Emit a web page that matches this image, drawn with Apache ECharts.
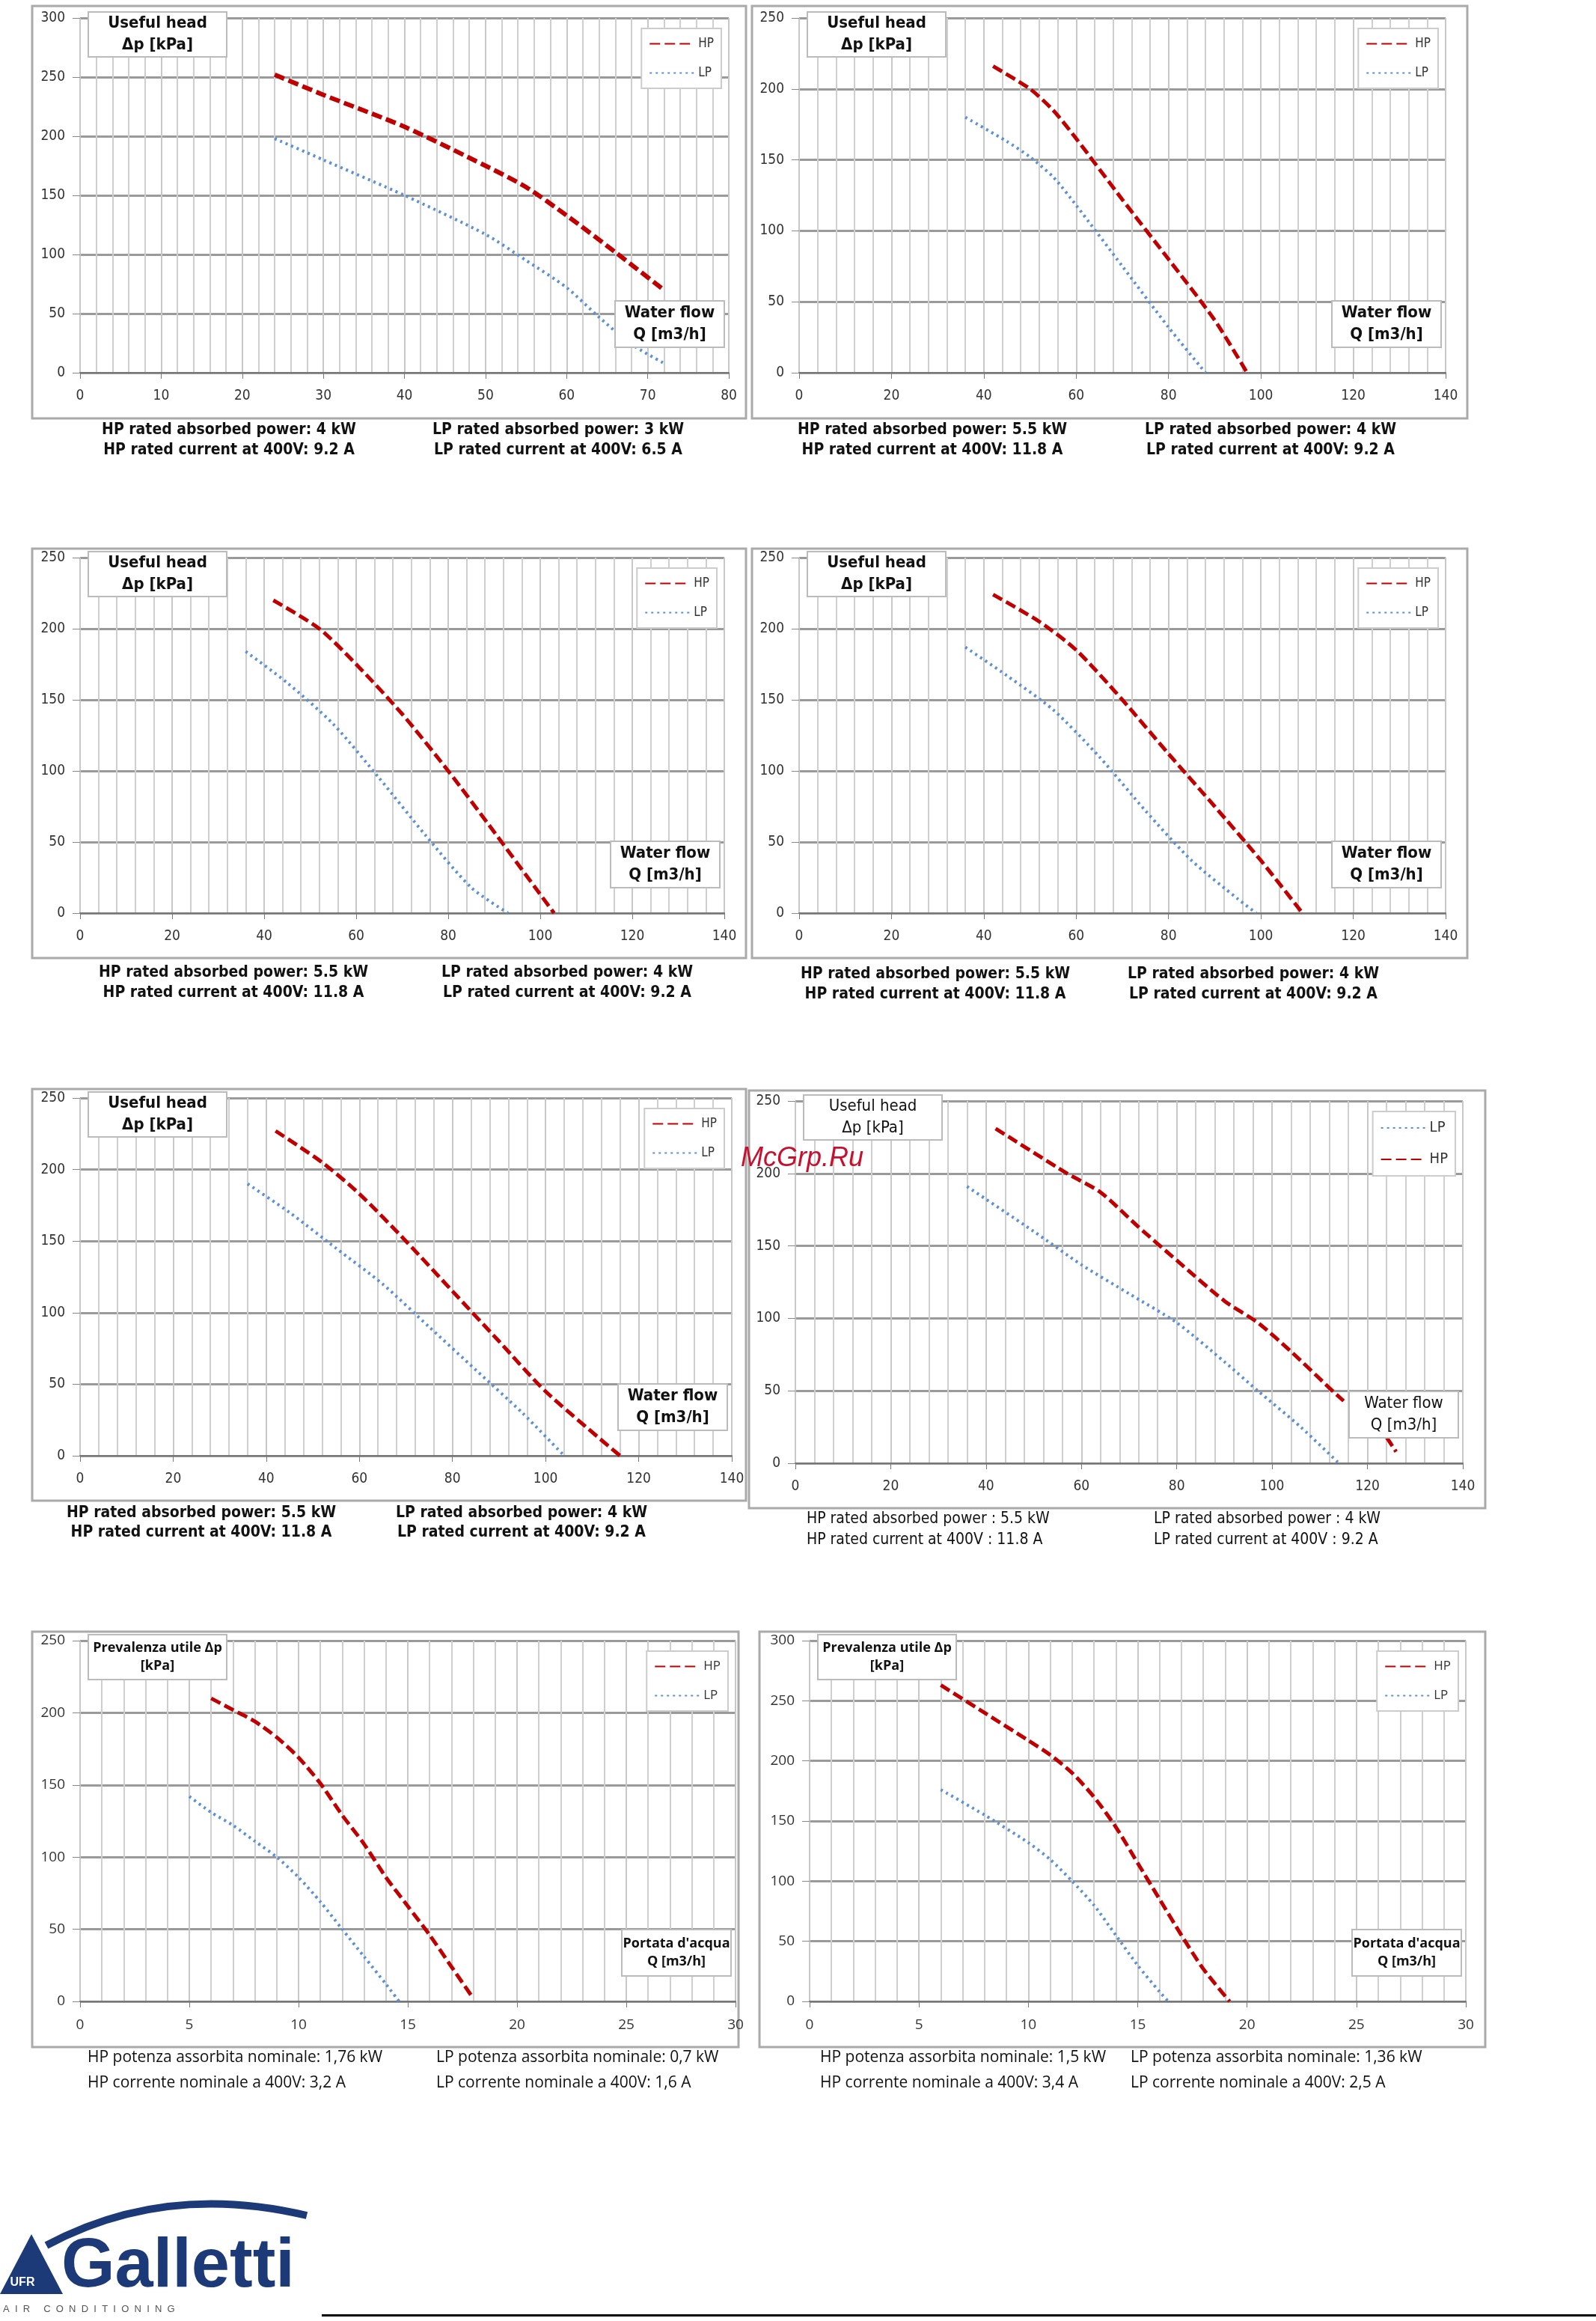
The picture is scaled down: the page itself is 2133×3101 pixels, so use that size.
<!DOCTYPE html>
<html>
<head>
<meta charset="utf-8">
<script src="https://cdn.jsdelivr.net/npm/echarts@6/dist/echarts.min.js"></script>
<style>
  html, body { margin: 0; padding: 0; background: #fff; }
  #main { width: 2133px; height: 3101px; }
</style>
</head>
<body>
<div id="main"></div>
<script>
// curve data, [Q m3/h, dp kPa]
var hp1 = [[24,252],[30,235],[40,208],[50,175],[55,157],[60,133],[66,102],[72,70]];
var lp1 = [[24,198],[30,180],[40,150],[50,117],[55,95],[60,72],[64,47],[68,24],[72,8]];
var hp2 = [[42,216],[50,200],[55,185],[60,165],[70,122],[80,80],[90,37],[97,0]];
var lp2 = [[36,180],[45,163],[50,152],[55,138],[60,118],[70,75],[80,32],[88,0]];
var hp3 = [[42,220],[52,200],[60,175],[70,140],[80,100],[90,57],[103,0]];
var lp3 = [[36,184],[45,162],[55,133],[65,95],[75,55],[85,18],[93,0]];
var hp4 = [[42,224],[52,205],[60,185],[70,150],[80,112],[90,75],[100,37],[109,0]];
var lp4 = [[36,187],[45,167],[55,143],[65,110],[75,72],[85,37],[95,10],[99,0]];
var hp5 = [[42,227],[52,205],[60,183],[70,150],[80,115],[90,80],[100,45],[116,0]];
var lp5 = [[36,190],[45,170],[55,145],[65,120],[75,90],[85,60],[95,30],[104,0]];
var hp6 = [[42,231],[57,200],[64,187],[72,163],[80,140],[90,112],[97,97],[104,77],[112,52],[115,43],'-',[124,18],[126,8]];
var lp6 = [[36,191],[50,160],[60,137],[70,117],[80,97],[90,70],[97,50],[106,25],[114,0]];
var hp7 = [[6,210],[7,202],[8,194],[9,183],[10,169],[11,151],[12,129],[13,109],[14,86],[15,66],[16,46],[17,24],[18,2]];
var lp7 = [[5,142],[6,131],[7,122],[8,111],[9,100],[10,86],[11,69],[12,50],[13,31],[14,12],[14.6,0]];
var hp8 = [[6,263],[8,240],[10,217],[11,205],[12,190],[13,170],[14,145],[15,115],[16,85],[17,55],[18,27],[19.2,0]];
var lp8 = [[6,176],[8,155],[10,132],[11,118],[12,100],[13,80],[14,55],[15,30],[16,8],[16.4,0]];

var hpList = [hp1,hp2,hp3,hp4,hp5,hp6,hp7,hp8];
var lpList = [lp1,lp2,lp3,lp4,lp5,lp6,lp7,lp8];
var xMax = [80,140,140,140,140,140,30,30];
var xStep = [10,20,20,20,20,20,5,5];
var yMax = [300,250,250,250,250,250,250,300];

var EN = '"Liberation Sans Narrow","DejaVu Sans Condensed",sans-serif';
var IT = '"Open Sans","Noto Sans",sans-serif';

var notes = [
  ['HP rated absorbed power: 4 kW','HP rated current at 400V: 9.2 A','LP rated absorbed power: 3 kW','LP rated current at 400V: 6.5 A'],
  ['HP rated absorbed power: 5.5 kW','HP rated current at 400V: 11.8 A','LP rated absorbed power: 4 kW','LP rated current at 400V: 9.2 A'],
  ['HP rated absorbed power: 5.5 kW','HP rated current at 400V: 11.8 A','LP rated absorbed power: 4 kW','LP rated current at 400V: 9.2 A'],
  ['HP rated absorbed power: 5.5 kW','HP rated current at 400V: 11.8 A','LP rated absorbed power: 4 kW','LP rated current at 400V: 9.2 A'],
  ['HP rated absorbed power: 5.5 kW','HP rated current at 400V: 11.8 A','LP rated absorbed power: 4 kW','LP rated current at 400V: 9.2 A'],
  ['HP rated absorbed power : 5.5 kW','HP rated current at 400V : 11.8 A','LP rated absorbed power : 4 kW','LP rated current at 400V : 9.2 A'],
  ['HP potenza assorbita nominale: 1,76 kW','HP corrente nominale a 400V: 3,2 A','LP potenza assorbita nominale: 0,7 kW','LP corrente nominale a 400V: 1,6 A'],
  ['HP potenza assorbita nominale: 1,5 kW','HP corrente nominale a 400V: 3,4 A','LP potenza assorbita nominale: 1,36 kW','LP corrente nominale a 400V: 2,5 A']
];

// layout (pixels)
var grids = [
  {l:107,r:974,t:24,b:498}, {l:1068,r:1932,t:24,b:498},
  {l:107,r:968,t:745,b:1220}, {l:1068,r:1932,t:745,b:1220},
  {l:107,r:978,t:1467,b:1945}, {l:1063,r:1955,t:1471,b:1955},
  {l:107,r:983,t:2192,b:2674}, {l:1082,r:1959,t:2192,b:2674}
];
var frames = [
  [43,8,997,559],[1005,8,1961,559],[43,733,997,1280],[1005,733,1961,1280],
  [43,1455,997,2005],[1001,1457,1985,2015],[43,2180,987,2735],[1015,2180,1985,2735]
];
// note positions: [x1, x2, y1, y2, align]
var notePos = [
  [306,746,575,602,'center'],[1246,1698,575,602,'center'],
  [312,758,1300,1327,'center'],[1250,1675,1302,1329,'center'],
  [269,697,2022,2048,'center'],[1078,1542,2030,2058,'left'],
  [117,583,2749,2783,'left'],[1096,1511,2749,2783,'left']
];

var option = { animation:false, backgroundColor:'#fff', grid:[], xAxis:[], yAxis:[], series:[], legend:[], graphic:[] };

function box(x, y, w, h, lines, font, size, weight){
  option.graphic.push({type:'rect', shape:{x:x,y:y,width:w,height:h},
    style:{fill:'#fff', stroke:'#bbb', lineWidth:2}, z:50});
  option.graphic.push({type:'text', x:x+w/2, y:y+h/2, z:51,
    style:{text:lines.join('\n'), align:'center', verticalAlign:'middle', fill:'#111',
      font:weight+' '+size+'px '+font, lineHeight:size*1.3}});
}

for (var i = 0; i < 8; i++){
  var g = grids[i];
  var ital = i >= 6, plain = i == 5;
  var font = ital ? IT : EN;
  var weight = plain ? 'normal' : 'bold';
  option.grid.push({left:g.l, top:g.t, width:g.r-g.l, height:g.b-g.t, containLabel:false});
  option.xAxis.push({type:'value', gridIndex:i, min:0, max:xMax[i], interval:xStep[i],
    axisLine:{lineStyle:{color:'#777', width:2}}, axisTick:{show:true, length:8, lineStyle:{color:'#777'}},
    axisLabel:{color:'#333', fontSize:19, margin:22, fontFamily:font},
    splitLine:{lineStyle:{color:'#c8c8c8', width:2}},
    minorTick:{show:false, splitNumber:5},
    minorSplitLine:{show:true, lineStyle:{color:'#cfcfcf', width:2}}});
  option.yAxis.push({type:'value', gridIndex:i, min:0, max:yMax[i], interval:50,
    axisLine:{show:false}, axisTick:{show:true, length:10, lineStyle:{color:'#888'}},
    axisLabel:{color:'#333', fontSize:19, margin:20, fontFamily:font},
    splitLine:{lineStyle:{color:'#9a9a9a', width:3}}});
  var hpS = {name:'HP', type:'line', xAxisIndex:i, yAxisIndex:i, data:hpList[i], symbol:'none',
    smooth:0.25, connectNulls:false, lineStyle:{color:'#c00000', width:i==0?6:5, type:[14,6]}, itemStyle:{color:'#c00000'}, z:5};
  var lpS = {name:'LP', type:'line', xAxisIndex:i, yAxisIndex:i, data:lpList[i], symbol:'none',
    smooth:0.25, lineStyle:{color:'#5b8fd6', width:4, type:[3,5]}, itemStyle:{color:'#5b8fd6'}, z:5};
  option.series.push(hpS, lpS);
  option.legend.push({orient:'vertical', right:2133-g.r+10, top:g.t+14,
    data: i==5 ? ['LP','HP'] : ['HP','LP'],
    itemWidth:60, itemHeight:10, itemGap:22, backgroundColor:'#fff', borderColor:'#ccc', borderWidth:2,
    itemStyle:{opacity:0},
    padding:[12,10,12,10], textStyle:{fontSize:i==5?20:17, color:'#333', fontFamily:font}, z:60});

  var f = frames[i];
  option.graphic.push({type:'rect', shape:{x:f[0],y:f[1],width:f[2]-f[0],height:f[3]-f[1]},
    style:{fill:'none', stroke:'#aaa', lineWidth:3}, z:0, silent:true});

  var fs = ital ? 18 : 22;
  box(g.l+11, g.t-8, 185, 60, ital ? ['Prevalenza utile Δp','[kPa]'] : ['Useful head','Δp [kPa]'], font, fs, weight);
  box(g.r-152, g.b-96, 146, 62, ital ? ["Portata d'acqua",'Q [m3/h]'] : ['Water flow','Q [m3/h]'], font, fs, weight);

  var n = notePos[i];
  var nw = ital ? 'normal' : weight;
  [[n[0],n[2],notes[i][0]],[n[0],n[3],notes[i][1]],[n[1],n[2],notes[i][2]],[n[1],n[3],notes[i][3]]].forEach(function(t){
    option.graphic.push({type:'text', x:t[0], y:t[1], z:40,
      style:{text:t[2], align:n[4], verticalAlign:'middle', fill:'#111', font:nw+' 21px '+font}});
  });
}

// watermark
option.graphic.push({type:'text', x:1072, y:1548, z:70,
  style:{text:'McGrp.Ru', align:'center', verticalAlign:'middle', fill:'#c8102e', font:'italic 36px "Liberation Sans",sans-serif'}});

// logo
option.graphic.push({type:'bezierCurve', z:30, shape:{x1:62,y1:3000,x2:410,y2:2960,cpx1:220,cpy1:2915}, style:{stroke:'#1c3a78', lineWidth:10, fill:null}});
option.graphic.push({type:'polygon', z:30, shape:{points:[[0,3065],[42,2985],[84,3065]]}, style:{fill:'#1c3a78'}});
option.graphic.push({type:'text', x:30, y:3050, z:31, style:{text:'UFR', fill:'#fff', font:'bold 16px "Liberation Sans",sans-serif', align:'center', verticalAlign:'middle'}});
option.graphic.push({type:'text', x:82, y:3030, z:31, style:{text:'Galletti', fill:'#1c3a78', font:'bold 92px "Liberation Sans",sans-serif', verticalAlign:'middle'}});
option.graphic.push({type:'text', x:4, y:3085, z:31, style:{text:'A  I  R     C  O  N  D  I  T  I  O  N  I  N  G', fill:'#555', font:'13px "Liberation Sans",sans-serif', verticalAlign:'middle'}});
option.graphic.push({type:'rect', z:30, shape:{x:430,y:3092,width:1703,height:3}, style:{fill:'#000'}});

var myChart = echarts.init(document.getElementById('main'));
myChart.setOption(option);
</script>
</body>
</html>
